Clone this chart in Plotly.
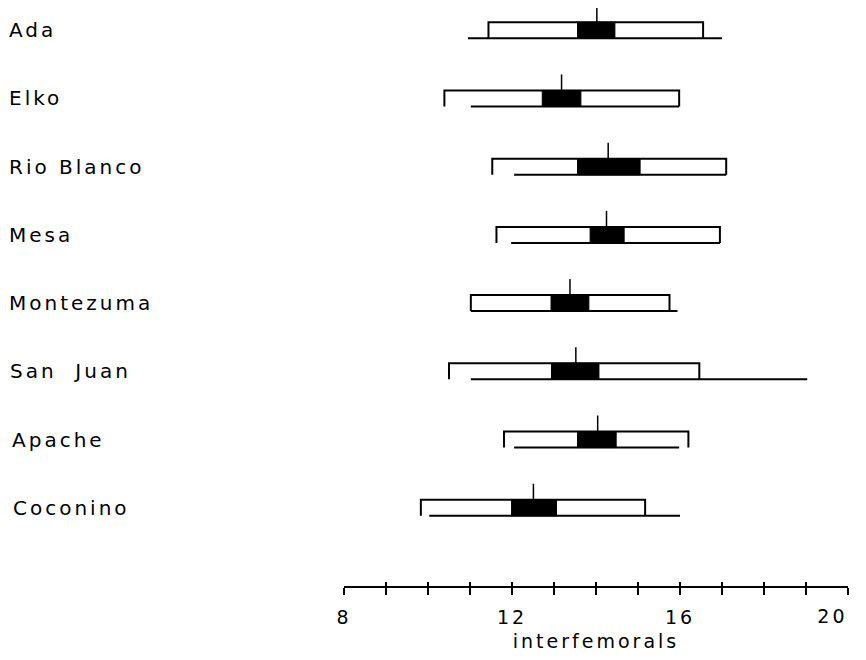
import plotly.graph_objects as go

# ---- data (interfemoral counts) ----
localities = ["Ada", "Elko", "Rio Blanco", "Mesa", "Montezuma", "San  Juan", "Apache", "Coconino"]
range_min = [10.95, 11.02, 12.05, 11.98, 11.02, 11.02, 12.05, 10.03]
range_max = [17.00, 15.98, 17.10, 16.95, 15.94, 19.03, 15.98, 16.00]
sd_low    = [11.44, 10.39, 11.53, 11.63, 11.02, 10.50, 11.81, 9.83]
sd_high   = [16.55, 15.98, 17.10, 16.95, 15.75, 16.46, 16.20, 15.17]
se_low    = [13.56, 12.72, 13.56, 13.86, 12.93, 12.94, 13.56, 11.99]
se_high   = [14.45, 13.64, 15.05, 14.67, 13.83, 14.07, 14.48, 13.06]
means     = [14.02, 13.18, 14.29, 14.25, 13.38, 13.52, 14.04, 12.51]
tick_labels = ["8", "12", "16", "20"]

# ---- style / layout ----
H = 0.235          # box height in row units
LW = 2
BLACK = "#000000"
FONT = "DejaVu Sans"
label_left_px = [-1, -1, -1, -1, -1, 0, 2, 3]   # label offsets (figure pixels)


def spaced(s, px=3):
    return f'<span style="letter-spacing:{px}px">{s}</span>'


fig = go.Figure()

for i, name in enumerate(localities):
    y0, y1 = i, i - H
    # SD box (white)
    fig.add_trace(go.Scatter(
        x=[sd_low[i], sd_high[i], sd_high[i], sd_low[i], sd_low[i]],
        y=[y1, y1, y0, y0, y1], mode="lines", fill="toself",
        fillcolor="white", line=dict(width=0), hoverinfo="skip", showlegend=False))
    # top edge + sides
    fig.add_trace(go.Scatter(
        x=[sd_low[i], sd_low[i], sd_high[i], sd_high[i]],
        y=[y0, y1, y1, y0], mode="lines",
        line=dict(color=BLACK, width=LW), hoverinfo="skip", showlegend=False))
    # range line (bottom)
    fig.add_trace(go.Scatter(
        x=[range_min[i], range_max[i]], y=[y0, y0], mode="lines",
        line=dict(color=BLACK, width=LW), hoverinfo="skip", showlegend=False))
    # SE black box
    fig.add_trace(go.Scatter(
        x=[se_low[i], se_high[i], se_high[i], se_low[i], se_low[i]],
        y=[y1, y1, y0, y0, y1], mode="lines", fill="toself",
        fillcolor=BLACK, line=dict(color=BLACK, width=1), hoverinfo="skip", showlegend=False))
    # mean tick
    fig.add_trace(go.Scatter(
        x=[means[i], means[i]], y=[y1, y1 - H], mode="lines",
        line=dict(color=BLACK, width=1.5), hoverinfo="skip", showlegend=False))
    # locality label
    fig.add_annotation(
        x=(label_left_px[i] - 336) / 504, xref="paper", xanchor="left",
        y=i - H / 2, yref="y", yanchor="middle", showarrow=False,
        text=spaced(name, 3), font=dict(family=FONT, size=20, color=BLACK))

# invisible traces for overlay axes
for ax in ("x2", "x3"):
    fig.add_trace(go.Scatter(x=[8, 20], y=[0, 0], xaxis=ax, mode="markers",
                             marker=dict(opacity=0), hoverinfo="skip", showlegend=False))

tick_vals = [float(t) for t in tick_labels]
tick_text = [spaced(t, 3) for t in tick_labels]
tfont = dict(family=FONT, size=19, color=BLACK)

fig.update_layout(
    width=858, height=652,
    margin=dict(l=336, r=18, t=0, b=74, autoexpand=False),
    paper_bgcolor="white", plot_bgcolor="white",
    xaxis=dict(range=[8, 20], showgrid=False, zeroline=False, automargin=False,
               showline=True, linecolor=BLACK, linewidth=1.5,
               tickvals=tick_vals[:-1], ticktext=tick_text[:-1],
               ticklabelstandoff=6,
               ticks="outside", ticklen=7, tickwidth=1.5, tickcolor=BLACK,
               minor=dict(dtick=1, ticks="outside", ticklen=7, tickwidth=1.5, tickcolor=BLACK),
               tickfont=tfont,
               title=dict(text=spaced("interfemorals", 3), standoff=8, font=tfont)),
    xaxis2=dict(range=[8, 20], overlaying="x", matches="x", anchor="y", side="bottom",
                showgrid=False, zeroline=False, showline=False, automargin=False,
                dtick=1, tick0=8, ticks="inside", ticklen=4, tickwidth=1.5, tickcolor=BLACK,
                showticklabels=False),
    xaxis3=dict(range=[8, 20], overlaying="x", matches="x", anchor="y", side="bottom",
                showgrid=False, zeroline=False, showline=False, automargin=False,
                tickvals=tick_vals[-1:], ticktext=tick_text[-1:],
                ticks="outside", ticklen=7, tickcolor="rgba(0,0,0,0)",
                ticklabelposition="outside left", ticklabelstandoff=13,
                tickfont=tfont),
    yaxis=dict(range=[8.03, -0.444], visible=False, showgrid=False, zeroline=False,
               automargin=False),
    showlegend=False,
)

fig.write_html("out.html")
